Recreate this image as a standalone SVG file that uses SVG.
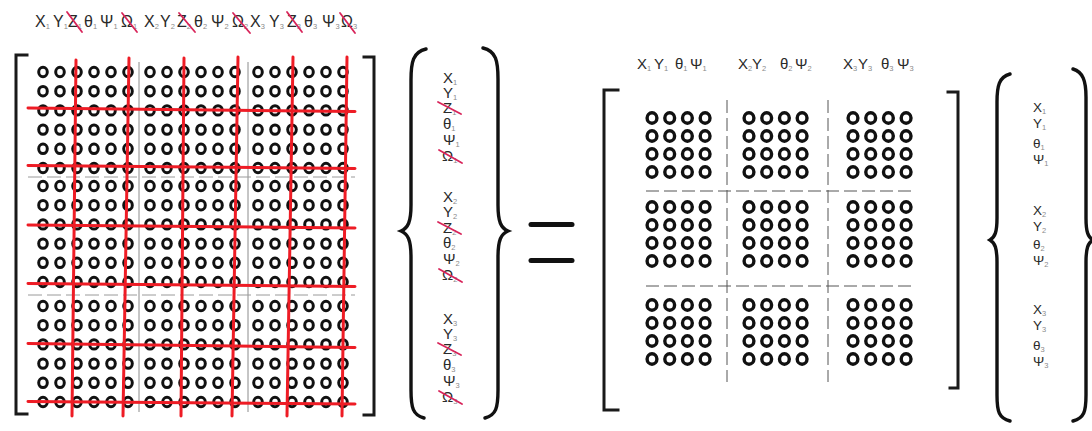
<svg xmlns="http://www.w3.org/2000/svg" xmlns:xlink="http://www.w3.org/1999/xlink" width="1092" height="431" viewBox="0 0 1092 431">
  <style>
    .lbl { font-family: "Liberation Sans", Arial, sans-serif; fill: #2a2a2a; }
    .top { font-size: 16px; }
    .vec { font-size: 15px; }
    .vec2 { font-size: 13.5px; }
    .col { font-size: 15px; }
    .sub { font-size: 7.5px; fill: #8a8a8a; }
    .ring { fill: none; stroke: #111; stroke-width: 3; }
    .ring2 { fill: none; stroke: #111; stroke-width: 3.4; }
    .bracket { fill: none; stroke: #1a1a1a; stroke-width: 3; stroke-linecap: square; }
    .brace { fill: none; stroke: #111; stroke-width: 3.4; stroke-linecap: round; }
    .cut { stroke: #ee1c25; stroke-width: 3; stroke-linecap: round; }
    .strike { stroke: #d8245a; stroke-width: 1.8; stroke-linecap: round; }
    .divL { stroke: #8c8c8c; stroke-width: 1; fill: none; }
    .divLd { stroke: #9a9a9a; stroke-width: 1; fill: none; stroke-dasharray: 14 5; }
    .divR { stroke: #555; stroke-width: 1; fill: none; stroke-dasharray: 13 5; }
  </style>
  <defs>
    <!-- 6 x 6 block of rings (full system matrix) -->
    <g id="row6">
      <ellipse class="ring" cx="0" cy="0" rx="4.3" ry="4.7"/>
      <ellipse class="ring" cx="17" cy="0" rx="4.3" ry="4.7"/>
      <ellipse class="ring" cx="34" cy="0" rx="4.3" ry="4.7"/>
      <ellipse class="ring" cx="51" cy="0" rx="4.3" ry="4.7"/>
      <ellipse class="ring" cx="68" cy="0" rx="4.3" ry="4.7"/>
      <ellipse class="ring" cx="85" cy="0" rx="4.3" ry="4.7"/>
    </g>
    <g id="blk6">
      <use xlink:href="#row6" y="0"/>
      <use xlink:href="#row6" y="19.2"/>
      <use xlink:href="#row6" y="38.4"/>
      <use xlink:href="#row6" y="57.6"/>
      <use xlink:href="#row6" y="76.8"/>
      <use xlink:href="#row6" y="96"/>
    </g>
    <!-- 4 x 4 block of rings (reduced matrix) -->
    <g id="row4">
      <ellipse class="ring2" cx="0" cy="0" rx="4.9" ry="5.2"/>
      <ellipse class="ring2" cx="17.7" cy="0" rx="4.9" ry="5.2"/>
      <ellipse class="ring2" cx="35.4" cy="0" rx="4.9" ry="5.2"/>
      <ellipse class="ring2" cx="53.1" cy="0" rx="4.9" ry="5.2"/>
    </g>
    <g id="blk4">
      <use xlink:href="#row4" y="0"/>
      <use xlink:href="#row4" y="18"/>
      <use xlink:href="#row4" y="36"/>
      <use xlink:href="#row4" y="54"/>
    </g>
  </defs>

  <rect width="1092" height="431" fill="#ffffff"/>

  <!-- header of the full matrix -->
  <g id="header-full">
    <text class="lbl top" x="35" y="27">X<tspan class="sub" dy="2">1</tspan></text>
    <text class="lbl top" x="53" y="27">Y<tspan class="sub" dy="2">1</tspan></text>
    <text class="lbl top" x="68" y="27">Z<tspan class="sub" dy="2">1</tspan></text>
    <text class="lbl top" x="84" y="27">θ<tspan class="sub" dy="2">1</tspan></text>
    <text class="lbl top" x="100" y="27">Ψ<tspan class="sub" dy="2">1</tspan></text>
    <text class="lbl top" x="121" y="27">Ω<tspan class="sub" dy="2">1</tspan></text>
    <text class="lbl top" x="144" y="27">X<tspan class="sub" dy="2">2</tspan></text>
    <text class="lbl top" x="160" y="27">Y<tspan class="sub" dy="2">2</tspan></text>
    <text class="lbl top" x="177" y="27">Z<tspan class="sub" dy="2">2</tspan></text>
    <text class="lbl top" x="194" y="27">θ<tspan class="sub" dy="2">2</tspan></text>
    <text class="lbl top" x="211" y="27">Ψ<tspan class="sub" dy="2">2</tspan></text>
    <text class="lbl top" x="232" y="27">Ω<tspan class="sub" dy="2">2</tspan></text>
    <text class="lbl top" x="250" y="27">X<tspan class="sub" dy="2">3</tspan></text>
    <text class="lbl top" x="269" y="27">Y<tspan class="sub" dy="2">3</tspan></text>
    <text class="lbl top" x="287" y="27">Z<tspan class="sub" dy="2">3</tspan></text>
    <text class="lbl top" x="304" y="27">θ<tspan class="sub" dy="2">3</tspan></text>
    <text class="lbl top" x="322" y="27">Ψ<tspan class="sub" dy="2">3</tspan></text>
    <text class="lbl top" x="341" y="27">Ω<tspan class="sub" dy="2">3</tspan></text>
    <line class="strike" x1="67" y1="12" x2="82" y2="32"/>
    <line class="strike" x1="122" y1="13" x2="137" y2="32"/>
    <line class="strike" x1="179" y1="13" x2="195" y2="32"/>
    <line class="strike" x1="233" y1="13" x2="250" y2="33"/>
    <line class="strike" x1="287" y1="12" x2="302" y2="32"/>
    <line class="strike" x1="340" y1="13" x2="355" y2="33"/>
  </g>

  <!-- full 18 x 18 matrix -->
  <g id="matrix-full">
    <path class="bracket" d="M27 55 H16 V414 H27"/>
    <path class="bracket" d="M364 57 H374 V415 H364"/>
    <line class="divL" x1="139" y1="62" x2="139" y2="412"/>
    <line class="divL" x1="248" y1="62" x2="248" y2="412"/>
    <line class="divLd" x1="28" y1="177" x2="355" y2="177"/>
    <line class="divLd" x1="28" y1="295" x2="355" y2="295"/>
    <use xlink:href="#blk6" x="43" y="72"/>
    <use xlink:href="#blk6" x="150" y="72"/>
    <use xlink:href="#blk6" x="258" y="72"/>
    <use xlink:href="#blk6" x="43" y="186"/>
    <use xlink:href="#blk6" x="150" y="186"/>
    <use xlink:href="#blk6" x="258" y="186"/>
    <use xlink:href="#blk6" x="43" y="306"/>
    <use xlink:href="#blk6" x="150" y="306"/>
    <use xlink:href="#blk6" x="258" y="306"/>
  </g>

  <!-- rows and columns removed from the full matrix -->
  <g id="cuts">
    <line class="cut" x1="28" y1="108" x2="355" y2="111.5"/>
    <line class="cut" x1="28" y1="165.5" x2="355" y2="168.5"/>
    <line class="cut" x1="28" y1="225" x2="355" y2="228"/>
    <line class="cut" x1="28" y1="283.5" x2="355" y2="286.5"/>
    <line class="cut" x1="28" y1="343.5" x2="355" y2="347.5"/>
    <line class="cut" x1="28" y1="401.5" x2="355" y2="404"/>
    <line class="cut" x1="76" y1="60" x2="72" y2="416"/>
    <line class="cut" x1="129" y1="58" x2="123" y2="416"/>
    <line class="cut" x1="184" y1="58" x2="181" y2="416"/>
    <line class="cut" x1="238" y1="57" x2="232" y2="416"/>
    <line class="cut" x1="293" y1="57" x2="287" y2="416"/>
    <line class="cut" x1="347" y1="57" x2="342" y2="416"/>
  </g>

  <!-- full displacement vector -->
  <g id="vector-full">
    <path class="brace" d="M426 49 C413 52 411 62 411 80 L411 205 C411 222 408 228 401 231 C408 234 411 240 411 257 L411 390 C411 408 413 415 424 418"/>
    <path class="brace" d="M483 48 C496 51 498 61 498 79 L498 205 C498 222 501 228 508 231 C501 234 498 240 498 257 L498 390 C498 408 496 415 485 418"/>
    <text class="lbl vec" x="443" y="83">X<tspan class="sub" dy="2">1</tspan></text>
    <text class="lbl vec" x="443" y="98">Y<tspan class="sub" dy="2">1</tspan></text>
    <text class="lbl vec" x="443" y="113">Z<tspan class="sub" dy="2">1</tspan></text>
    <text class="lbl vec" x="443" y="129">θ<tspan class="sub" dy="2">1</tspan></text>
    <text class="lbl vec" x="443" y="145">Ψ<tspan class="sub" dy="2">1</tspan></text>
    <text class="lbl vec" x="442" y="161">Ω<tspan class="sub" dy="2">1</tspan></text>
    <text class="lbl vec" x="443" y="202">X<tspan class="sub" dy="2">2</tspan></text>
    <text class="lbl vec" x="443" y="217">Y<tspan class="sub" dy="2">2</tspan></text>
    <text class="lbl vec" x="443" y="233">Z<tspan class="sub" dy="2">2</tspan></text>
    <text class="lbl vec" x="443" y="248">θ<tspan class="sub" dy="2">2</tspan></text>
    <text class="lbl vec" x="443" y="264">Ψ<tspan class="sub" dy="2">2</tspan></text>
    <text class="lbl vec" x="442" y="280">Ω<tspan class="sub" dy="2">2</tspan></text>
    <text class="lbl vec" x="443" y="324">X<tspan class="sub" dy="2">3</tspan></text>
    <text class="lbl vec" x="443" y="339">Y<tspan class="sub" dy="2">3</tspan></text>
    <text class="lbl vec" x="443" y="354">Z<tspan class="sub" dy="2">3</tspan></text>
    <text class="lbl vec" x="443" y="370">θ<tspan class="sub" dy="2">3</tspan></text>
    <text class="lbl vec" x="443" y="386">Ψ<tspan class="sub" dy="2">3</tspan></text>
    <text class="lbl vec" x="442" y="402">Ω<tspan class="sub" dy="2">3</tspan></text>
    <line class="strike" x1="438" y1="102" x2="461" y2="114"/>
    <line class="strike" x1="439" y1="150" x2="462" y2="163"/>
    <line class="strike" x1="438" y1="222" x2="461" y2="234"/>
    <line class="strike" x1="439" y1="269" x2="462" y2="282"/>
    <line class="strike" x1="438" y1="343" x2="461" y2="355"/>
    <line class="strike" x1="439" y1="391" x2="462" y2="404"/>
  </g>

  <!-- equals sign -->
  <g id="equals">
    <line x1="531" y1="224.5" x2="572" y2="224.5" stroke="#111" stroke-width="5" stroke-linecap="round"/>
    <line x1="531" y1="260.5" x2="572" y2="260.5" stroke="#111" stroke-width="5" stroke-linecap="round"/>
  </g>

  <!-- header of the reduced matrix -->
  <g id="header-reduced">
    <text class="lbl col" x="637" y="69">X<tspan class="sub" dy="2">1</tspan></text>
    <text class="lbl col" x="654" y="69">Y<tspan class="sub" dy="2">1</tspan></text>
    <text class="lbl col" x="675" y="69">θ<tspan class="sub" dy="2">1</tspan></text>
    <text class="lbl col" x="690" y="69">Ψ<tspan class="sub" dy="2">1</tspan></text>
    <text class="lbl col" x="738" y="69">X<tspan class="sub" dy="2">2</tspan></text>
    <text class="lbl col" x="752" y="69">Y<tspan class="sub" dy="2">2</tspan></text>
    <text class="lbl col" x="780" y="69">θ<tspan class="sub" dy="2">2</tspan></text>
    <text class="lbl col" x="795" y="69">Ψ<tspan class="sub" dy="2">2</tspan></text>
    <text class="lbl col" x="843" y="69">X<tspan class="sub" dy="2">3</tspan></text>
    <text class="lbl col" x="858" y="69">Y<tspan class="sub" dy="2">3</tspan></text>
    <text class="lbl col" x="881" y="69">θ<tspan class="sub" dy="2">3</tspan></text>
    <text class="lbl col" x="897" y="69">Ψ<tspan class="sub" dy="2">3</tspan></text>
  </g>

  <!-- reduced 12 x 12 matrix -->
  <g id="matrix-reduced">
    <path class="bracket" d="M618 90 H604 V410 H618"/>
    <path class="bracket" d="M948 92 H958 V388 H950"/>
    <line class="divR" x1="727" y1="100" x2="727" y2="382"/>
    <line class="divR" x1="828" y1="100" x2="828" y2="382"/>
    <line class="divR" x1="646" y1="191" x2="912" y2="191"/>
    <line class="divR" x1="646" y1="286" x2="912" y2="286"/>
    <use xlink:href="#blk4" x="652" y="118"/>
    <use xlink:href="#blk4" x="749" y="118"/>
    <use xlink:href="#blk4" x="853" y="118"/>
    <use xlink:href="#blk4" x="652" y="207"/>
    <use xlink:href="#blk4" x="749" y="207"/>
    <use xlink:href="#blk4" x="853" y="207"/>
    <use xlink:href="#blk4" x="652" y="305"/>
    <use xlink:href="#blk4" x="749" y="305"/>
    <use xlink:href="#blk4" x="853" y="305"/>
  </g>

  <!-- reduced displacement vector -->
  <g id="vector-reduced">
    <path class="brace" d="M1010 74 C999 77 997 86 997 102 L997 218 C997 232 995 237 990 240 C995 243 997 248 997 262 L997 395 C997 412 999 418 1010 421"/>
    <path class="brace" d="M1073 69 C1083 72 1086 81 1086 97 L1086 218 C1086 232 1088 237 1093 240 C1088 243 1086 248 1086 262 L1086 395 C1086 412 1084 418 1073 421"/>
    <text class="lbl vec2" x="1033" y="112">X<tspan class="sub" dy="2">1</tspan></text>
    <text class="lbl vec2" x="1033" y="128">Y<tspan class="sub" dy="2">1</tspan></text>
    <text class="lbl vec2" x="1033" y="148">θ<tspan class="sub" dy="2">1</tspan></text>
    <text class="lbl vec2" x="1033" y="164">Ψ<tspan class="sub" dy="2">1</tspan></text>
    <text class="lbl vec2" x="1033" y="215">X<tspan class="sub" dy="2">2</tspan></text>
    <text class="lbl vec2" x="1033" y="231">Y<tspan class="sub" dy="2">2</tspan></text>
    <text class="lbl vec2" x="1033" y="249">θ<tspan class="sub" dy="2">2</tspan></text>
    <text class="lbl vec2" x="1033" y="265">Ψ<tspan class="sub" dy="2">2</tspan></text>
    <text class="lbl vec2" x="1033" y="314">X<tspan class="sub" dy="2">3</tspan></text>
    <text class="lbl vec2" x="1033" y="330">Y<tspan class="sub" dy="2">3</tspan></text>
    <text class="lbl vec2" x="1033" y="350">θ<tspan class="sub" dy="2">3</tspan></text>
    <text class="lbl vec2" x="1033" y="366">Ψ<tspan class="sub" dy="2">3</tspan></text>
  </g>
</svg>
